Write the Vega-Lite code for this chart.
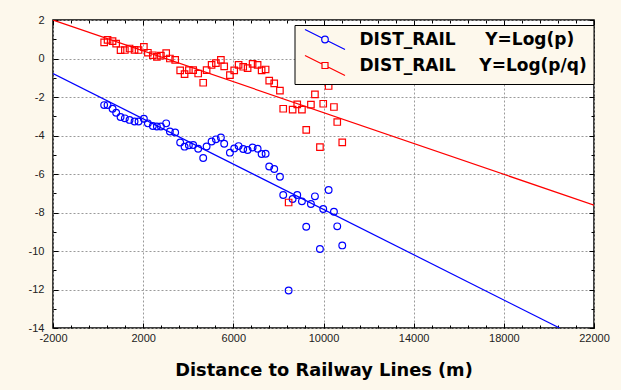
{
  "$schema": "https://vega.github.io/schema/vega-lite/v6.json",
  "width": 541,
  "height": 308,
  "autosize": {"type": "none"},
  "padding": {"left": 53, "top": 20, "right": 27, "bottom": 62},
  "background": "#fdf8ec",
  "config": {
    "view": {"fill": "white", "stroke": "black", "strokeWidth": 1.5},
    "axis": {
      "labelFont": "Liberation Sans",
      "labelFontSize": 11,
      "labelColor": "#222222",
      "domain": false,
      "tickColor": "black",
      "tickWidth": 1,
      "gridColor": "#9a9a9a",
      "gridDash": [2, 2],
      "gridWidth": 1
    }
  },
  "datasets": {
    "pts": [
      {"d": 269, "logp": -2.42, "logpq": 0.84},
      {"d": 420, "logp": -2.42, "logpq": 0.97},
      {"d": 642, "logp": -2.61, "logpq": 0.9},
      {"d": 802, "logp": -2.82, "logpq": 0.77},
      {"d": 997, "logp": -3.04, "logpq": 0.43},
      {"d": 1188, "logp": -3.11, "logpq": 0.44},
      {"d": 1396, "logp": -3.19, "logpq": 0.52},
      {"d": 1618, "logp": -3.27, "logpq": 0.45},
      {"d": 1796, "logp": -3.27, "logpq": 0.44},
      {"d": 2031, "logp": -3.13, "logpq": 0.6},
      {"d": 2209, "logp": -3.37, "logpq": 0.3},
      {"d": 2430, "logp": -3.51, "logpq": 0.17},
      {"d": 2608, "logp": -3.53, "logpq": 0.08},
      {"d": 2786, "logp": -3.53, "logpq": 0.15},
      {"d": 3021, "logp": -3.37, "logpq": 0.28},
      {"d": 3185, "logp": -3.79, "logpq": 0.0},
      {"d": 3420, "logp": -3.84, "logpq": -0.07},
      {"d": 3642, "logp": -4.36, "logpq": -0.62},
      {"d": 3837, "logp": -4.58, "logpq": -0.81},
      {"d": 4028, "logp": -4.51, "logpq": -0.6},
      {"d": 4219, "logp": -4.49, "logpq": -0.6},
      {"d": 4441, "logp": -4.69, "logpq": -0.78},
      {"d": 4663, "logp": -5.17, "logpq": -1.26},
      {"d": 4814, "logp": -4.57, "logpq": -0.6},
      {"d": 5036, "logp": -4.31, "logpq": -0.33},
      {"d": 5226, "logp": -4.2, "logpq": -0.24},
      {"d": 5448, "logp": -4.1, "logpq": -0.07},
      {"d": 5595, "logp": -4.43, "logpq": -0.41},
      {"d": 5848, "logp": -4.89, "logpq": -0.86},
      {"d": 6039, "logp": -4.67, "logpq": -0.62},
      {"d": 6234, "logp": -4.55, "logpq": -0.33},
      {"d": 6438, "logp": -4.7, "logpq": -0.43},
      {"d": 6633, "logp": -4.75, "logpq": -0.5},
      {"d": 6855, "logp": -4.62, "logpq": -0.28},
      {"d": 7077, "logp": -4.69, "logpq": -0.33},
      {"d": 7255, "logp": -4.96, "logpq": -0.62},
      {"d": 7432, "logp": -4.95, "logpq": -0.57},
      {"d": 7592, "logp": -5.61, "logpq": -1.15},
      {"d": 7814, "logp": -5.74, "logpq": -1.29},
      {"d": 8067, "logp": -6.14, "logpq": -1.67},
      {"d": 8213, "logp": -7.09, "logpq": -2.61},
      {"d": 8453, "logp": -12.05, "logpq": -7.48},
      {"d": 8630, "logp": -7.3, "logpq": -2.66},
      {"d": 8835, "logp": -7.09, "logpq": -2.38},
      {"d": 9043, "logp": -7.42, "logpq": -2.66},
      {"d": 9234, "logp": -8.74, "logpq": -3.71},
      {"d": 9442, "logp": -7.56, "logpq": -2.4},
      {"d": 9620, "logp": -7.16, "logpq": -1.86},
      {"d": 9842, "logp": -9.9, "logpq": -4.6},
      {"d": 9988, "logp": -7.82, "logpq": -2.35},
      {"d": 10228, "logp": -6.83, "logpq": -1.43},
      {"d": 10463, "logp": -7.96, "logpq": -2.52},
      {"d": 10610, "logp": -8.72, "logpq": -3.3},
      {"d": 10832, "logp": -9.71, "logpq": -4.36}
    ],
    "fits": [
      {"series": "logp", "d": -2000, "v": -0.78},
      {"series": "logp", "d": 20474, "v": -14},
      {"series": "logpq", "d": -2000, "v": 2.0},
      {"series": "logpq", "d": 22000, "v": -7.62}
    ]
  },
  "layer": [
    {
      "data": {"name": "fits"},
      "transform": [{"filter": "datum.series === 'logp'"}],
      "mark": {"type": "line", "strokeWidth": 1.2, "clip": true, "color": "#0000ff"},
      "encoding": {
        "x": {
          "field": "d",
          "type": "quantitative",
          "scale": {"domain": [-2000, 22000], "nice": false, "zero": false},
          "axis": {
            "orient": "bottom",
            "values": [-2000, -1200, -400, 400, 1200, 2000, 2800, 3600, 4400, 5200, 6000, 6800, 7600, 8400, 9200, 10000, 10800, 11600, 12400, 13200, 14000, 14800, 15600, 16400, 17200, 18000, 18800, 19600, 20400, 21200, 22000],
            "labelExpr": "(datum.value + 2000) % 4000 === 0 ? '' + datum.value : ''",
            "labelFlush": false,
            "labelPadding": 9,
            "tickSize": {"condition": {"test": "(datum.value + 2000) % 4000 === 0", "value": -5}, "value": -3},
            "gridOpacity": {"condition": {"test": "(datum.value + 2000) % 4000 === 0", "value": 1}, "value": 0},
            "title": "Distance to Railway Lines (m)",
            "titleFont": "DejaVu Sans",
            "titleFontSize": 17.8,
            "titleFontWeight": "bold",
            "titleColor": "black",
            "titlePadding": 18
          }
        },
        "y": {
          "field": "v",
          "type": "quantitative",
          "scale": {"domain": [-14, 2], "nice": false, "zero": false},
          "axis": {
            "orient": "left",
            "values": [-14, -13, -12, -11, -10, -9, -8, -7, -6, -5, -4, -3, -2, -1, 0, 1, 2],
            "labelExpr": "datum.value % 2 === 0 ? '' + datum.value : ''",
            "labelFlush": false,
            "labelPadding": 14,
            "tickSize": {"condition": {"test": "datum.value % 2 === 0", "value": -5}, "value": -3},
            "gridOpacity": {"condition": {"test": "datum.value % 2 === 0", "value": 1}, "value": 0},
            "title": null
          }
        }
      }
    },
    {
      "data": {"name": "fits"},
      "transform": [{"filter": "datum.series === 'logpq'"}],
      "mark": {"type": "line", "strokeWidth": 1.2, "clip": true, "color": "#ff0000"},
      "encoding": {
        "x": {"field": "d", "type": "quantitative", "axis": null},
        "y": {"field": "v", "type": "quantitative", "axis": null}
      }
    },
    {
      "data": {"name": "pts"},
      "mark": {"type": "point", "shape": "circle", "filled": false, "strokeWidth": 1.2, "size": 45, "color": "#0000ff", "opacity": 1},
      "encoding": {
        "x": {
          "field": "d",
          "type": "quantitative",
          "axis": {
            "orient": "top",
            "values": [-2000, -1200, -400, 400, 1200, 2000, 2800, 3600, 4400, 5200, 6000, 6800, 7600, 8400, 9200, 10000, 10800, 11600, 12400, 13200, 14000, 14800, 15600, 16400, 17200, 18000, 18800, 19600, 20400, 21200, 22000],
            "labels": false,
            "grid": false,
            "tickSize": {"condition": {"test": "(datum.value + 2000) % 4000 === 0", "value": -5}, "value": -3},
            "title": null
          }
        },
        "y": {
          "field": "logp",
          "type": "quantitative",
          "axis": {
            "orient": "right",
            "values": [-14, -13, -12, -11, -10, -9, -8, -7, -6, -5, -4, -3, -2, -1, 0, 1, 2],
            "labels": false,
            "grid": false,
            "tickSize": {"condition": {"test": "datum.value % 2 === 0", "value": -5}, "value": -3},
            "title": null
          }
        }
      }
    },
    {
      "data": {"name": "pts"},
      "mark": {"type": "point", "shape": "square", "filled": false, "strokeWidth": 1.2, "size": 42, "color": "#ff0000", "opacity": 1},
      "encoding": {
        "x": {"field": "d", "type": "quantitative", "axis": null},
        "y": {"field": "logpq", "type": "quantitative", "axis": null}
      }
    },
    {
      "data": {"name": "fits"},
      "mark": {"type": "point", "filled": false, "opacity": 0, "size": 100},
      "encoding": {
        "x": {"field": "d", "type": "quantitative", "axis": null},
        "y": {"field": "v", "type": "quantitative", "axis": null},
        "stroke": {
          "field": "series",
          "type": "nominal",
          "scale": {"domain": ["logp", "logpq"], "range": ["#0000ff", "#ff0000"]},
          "legend": {
            "orient": "none",
            "legendX": 241.5,
            "legendY": 5,
            "title": null,
            "padding": 6,
            "fillColor": "#fdf8ec",
            "strokeColor": "black",
            "labelFont": "DejaVu Sans",
            "labelFontWeight": "bold",
            "labelFontSize": 17,
            "labelColor": "black",
            "labelOffset": 42,
            "labelLimit": 400,
            "rowPadding": 1,
            "symbolSize": 100,
            "symbolStrokeWidth": 1.2,
            "symbolOpacity": 1,
            "labelExpr": "datum.value === 'logp' ? 'DIST_RAIL\u00a0\u00a0\u00a0\u00a0\u00a0Y=Log(p)' : 'DIST_RAIL\u00a0\u00a0\u00a0\u00a0Y=Log(p/q)'"
          }
        },
        "shape": {
          "field": "series",
          "type": "nominal",
          "scale": {"domain": ["logp", "logpq"], "range": ["M-0.8,-2L2.61,-0.295M3.79,0.295L7.2,2M3.86,0A0.66,0.66,0,1,1,2.54,0A0.66,0.66,0,1,1,3.86,0Z", "M-0.8,-2L2.6,-0.3M3.8,0.3L7.2,2M2.6,-0.6L3.8,-0.6L3.8,0.6L2.6,0.6Z"]},
          "legend": {
            "orient": "none",
            "legendX": 241.5,
            "legendY": 5,
            "title": null,
            "padding": 6,
            "fillColor": "#fdf8ec",
            "strokeColor": "black",
            "labelFont": "DejaVu Sans",
            "labelFontWeight": "bold",
            "labelFontSize": 17,
            "labelColor": "black",
            "labelOffset": 42,
            "labelLimit": 400,
            "rowPadding": 1,
            "symbolSize": 100,
            "symbolStrokeWidth": 1.2,
            "symbolOpacity": 1,
            "labelExpr": "datum.value === 'logp' ? 'DIST_RAIL\u00a0\u00a0\u00a0\u00a0\u00a0Y=Log(p)' : 'DIST_RAIL\u00a0\u00a0\u00a0\u00a0Y=Log(p/q)'"
          }
        }
      }
    }
  ],
  "resolve": {"axis": {"x": "independent", "y": "independent"}}
}
